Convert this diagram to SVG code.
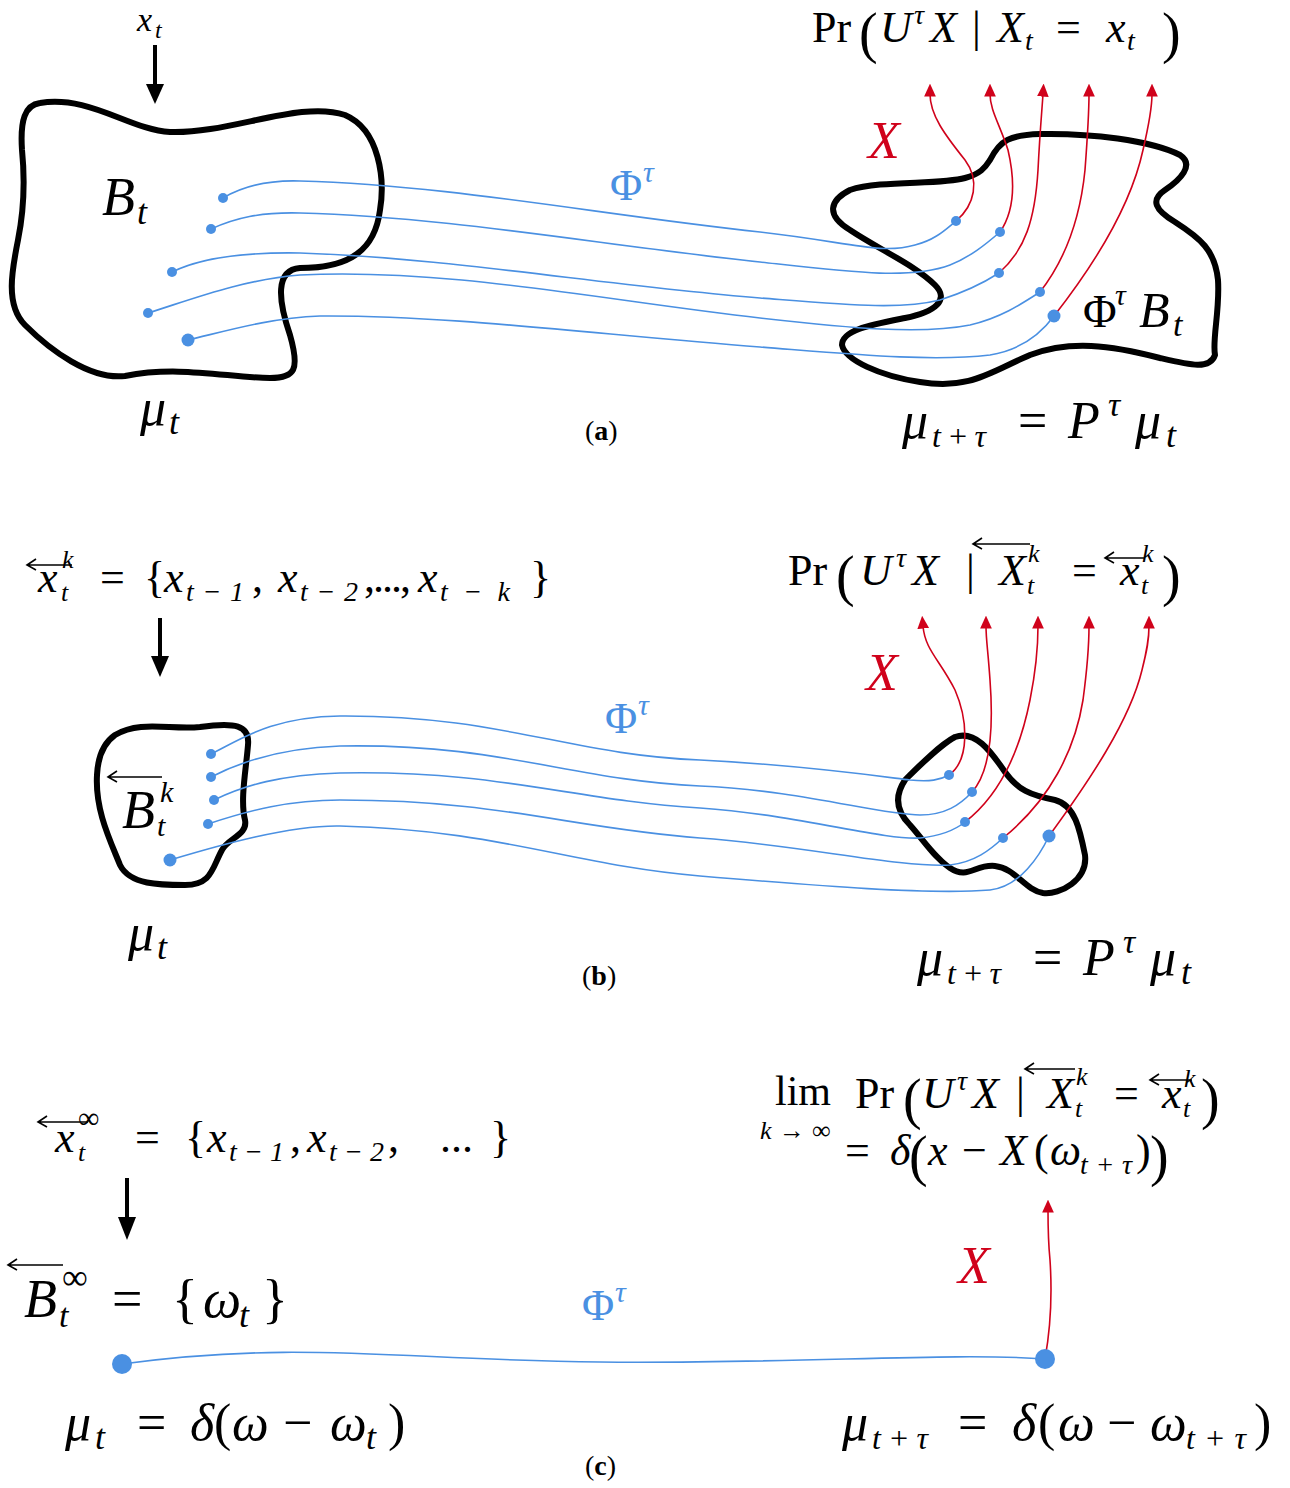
<svg xmlns="http://www.w3.org/2000/svg" width="1290" height="1488" viewBox="0 0 1290 1488">
<style>
.m{font-family:"Liberation Serif","DejaVu Serif",serif;font-style:italic;fill:#000}
.u{font-style:normal}
.b{font-weight:bold;font-style:normal}
.blob{fill:none;stroke:#000;stroke-width:6;stroke-linejoin:round}
.bl{fill:none;stroke:#4a90e2;stroke-width:1.6}
.rd{fill:none;stroke:#d0021b;stroke-width:1.6}
.dot{fill:#4a90e2}
.acc{fill:none;stroke:#000;stroke-width:1.6}
.blue{fill:#4a90e2}
.red{fill:#d0021b}
</style>
<defs>
<marker id="ra" viewBox="0 0 10 10" refX="2" refY="5" markerWidth="13" markerHeight="13" markerUnits="userSpaceOnUse" orient="auto">
<path d="M0,0.5 L10,5 L0,9.5 Z" fill="#d0021b"/>
</marker>
</defs>

<!-- Panel (a) -->
<g id="a-left-blob"><path class="blob" d="M40,103 C90,95 130,130 170,132 C230,134 300,100 345,115 C380,130 385,180 380,210 C375,250 350,268 300,268 C275,270 278,300 290,335 C300,370 295,378 270,378 C230,378 180,365 125,376 C90,380 50,350 25,325 C5,305 12,270 18,240 C24,210 25,180 22,150 C20,120 25,105 40,103 Z"/></g>
<g id="a-right-blob"><path class="blob" d="M990,160 C1000,140 1010,135 1040,134 C1090,133 1150,140 1180,155 C1195,165 1180,180 1165,190 C1150,200 1155,210 1175,222 C1200,238 1215,250 1218,280 C1220,310 1212,340 1215,355 C1210,370 1190,365 1160,358 C1110,345 1070,340 1030,355 C990,372 970,390 920,382 C880,376 845,360 842,345 C842,330 870,325 905,318 C935,312 950,300 935,285 C915,265 880,250 850,230 C825,215 830,200 850,190 C880,180 940,185 965,178 C980,174 985,168 990,160 Z"/></g>
<g id="a-arrow"><line x1="155" y1="45" x2="155" y2="88" stroke="#000" stroke-width="4"/><path d="M146,84 L164,84 L155,104 Z" fill="#000"/></g>
<g id="a-connectors">
<path class="bl" d="M223,198 C245,185 270,180 300,181 C450,185 600,215 760,232 C850,242 880,255 915,245 C935,240 945,230 956,221"/>
<path class="bl" d="M211,229 C235,218 260,212 300,213 C450,217 600,245 760,262 C850,272 910,280 950,265 C970,257 985,245 1000,232"/>
<path class="bl" d="M172,272 C200,258 240,252 300,253 C450,258 600,285 760,298 C850,305 900,310 940,300 C965,292 985,282 999,273"/>
<path class="bl" d="M148,313 C190,300 240,280 300,275 C450,268 600,300 760,318 C850,328 920,335 970,325 C1000,318 1020,305 1040,292"/>
<path class="bl" d="M188,340 C230,330 270,318 320,316 C450,315 600,335 760,347 C850,354 930,362 990,355 C1020,350 1040,335 1054,316"/>
<path class="rd" marker-end="url(#ra)" d="M956,221 C975,205 980,180 965,160 C945,135 930,115 930,94"/>
<path class="rd" marker-end="url(#ra)" d="M1000,232 C1015,210 1015,180 1008,150 C1000,125 990,110 990,94"/>
<path class="rd" marker-end="url(#ra)" d="M999,273 C1025,250 1035,220 1038,170 C1040,130 1042,110 1043,94"/>
<path class="rd" marker-end="url(#ra)" d="M1040,292 C1065,260 1080,220 1085,170 C1088,130 1089,110 1089,94"/>
<path class="rd" marker-end="url(#ra)" d="M1054,316 C1090,270 1130,210 1143,150 C1150,120 1152,105 1152,94"/>
</g>
<g id="a-dots">
<circle class="dot" cx="223" cy="198" r="5"/><circle class="dot" cx="211" cy="229" r="5"/><circle class="dot" cx="172" cy="272" r="5"/><circle class="dot" cx="148" cy="313" r="5"/><circle class="dot" cx="188" cy="340" r="6.5"/>
<circle class="dot" cx="956" cy="221" r="5"/><circle class="dot" cx="1000" cy="232" r="5"/><circle class="dot" cx="999" cy="273" r="5"/><circle class="dot" cx="1040" cy="292" r="5"/><circle class="dot" cx="1054" cy="316" r="6.5"/>
</g>
<g id="a-labels">
<text class="m" font-size="34"><tspan x="137" y="31">x</tspan><tspan x="155" y="38" font-size="24">t</tspan></text>
<text class="m" font-size="44"><tspan class="u" x="812" y="42">Pr</tspan><tspan class="u" x="859" y="52" font-size="56">(</tspan><tspan x="880" y="42">U</tspan><tspan x="914" y="24" font-size="28">τ</tspan><tspan x="930" y="42">X</tspan><tspan class="u" x="972" y="42">|</tspan><tspan x="997" y="42">X</tspan><tspan x="1025" y="50" font-size="28">t</tspan><tspan class="u" x="1056" y="42">=</tspan><tspan x="1106" y="42">x</tspan><tspan x="1127" y="50" font-size="28">t</tspan><tspan class="u" x="1162" y="52" font-size="56">)</tspan></text>
<text class="m" font-size="54"><tspan x="102" y="215">B</tspan><tspan x="137" y="224" font-size="36">t</tspan></text>
<text class="m blue" font-size="44"><tspan class="u" x="610" y="200">Φ</tspan><tspan x="643" y="182" font-size="30">τ</tspan></text>
<text class="m red" x="868" y="158" font-size="52">X</text>
<text class="m" font-size="46"><tspan class="u" x="1083" y="327">Φ</tspan><tspan x="1115" y="305" font-size="30">τ</tspan><tspan x="1139" y="327" font-size="50">B</tspan><tspan x="1173" y="336" font-size="34">t</tspan></text>
<text class="m" font-size="52"><tspan x="140" y="425">μ</tspan><tspan x="169" y="434" font-size="36">t</tspan></text>
<text class="m u" x="585" y="440" font-size="28">(<tspan class="b">a</tspan>)</text>
<text class="m" font-size="52"><tspan x="902" y="438">μ</tspan><tspan x="932" y="447" font-size="32" textLength="54" lengthAdjust="spacing">t+τ</tspan><tspan class="u" x="1018" y="438">=</tspan><tspan x="1068" y="438">P</tspan><tspan x="1108" y="416" font-size="34">τ</tspan><tspan x="1135" y="438">μ</tspan><tspan x="1166" y="447" font-size="36">t</tspan></text>
</g>

<!-- Panel (b) -->
<g id="b-left-blob"><path class="blob" d="M115,735 C140,720 170,730 200,727 C235,722 250,725 248,745 C246,770 240,800 245,820 C248,835 228,838 222,850 C212,868 212,885 185,885 C160,885 130,885 120,865 C110,840 95,810 97,775 C98,755 105,742 115,735 Z"/></g>
<g id="b-right-blob"><path class="blob" d="M955,737 C975,730 990,750 1005,772 C1018,790 1030,795 1055,800 C1075,805 1080,830 1085,855 C1088,880 1060,895 1043,893 C1025,890 1015,868 995,866 C975,864 968,880 950,868 C935,858 925,842 910,825 C895,810 895,795 905,780 C920,765 940,745 955,737 Z"/></g>
<g id="b-arrow"><line x1="160" y1="618" x2="160" y2="660" stroke="#000" stroke-width="4"/><path d="M151,656 L169,656 L160,677 Z" fill="#000"/></g>
<g id="b-connectors">
<path class="bl" d="M211,754 C240,740 270,717 340,716 C500,715 570,755 700,760 C800,765 870,775 910,780 C930,782 940,780 949,775"/>
<path class="bl" d="M211,777 C240,762 280,748 340,746 C500,743 570,780 700,786 C800,790 880,815 920,815 C945,815 960,805 972,792"/>
<path class="bl" d="M214,800 C245,785 280,775 340,773 C500,770 570,800 700,808 C800,815 880,840 920,838 C940,836 955,830 965,822"/>
<path class="bl" d="M208,824 C250,810 290,800 340,800 C500,800 570,828 700,838 C800,845 900,868 950,865 C975,862 990,850 1003,838"/>
<path class="bl" d="M170,860 C220,845 290,825 340,826 C500,830 570,865 700,876 C820,886 930,895 990,890 C1020,887 1040,855 1049,836"/>
<path class="rd" marker-end="url(#ra)" d="M949,775 C970,760 968,720 955,690 C940,660 925,650 923,626"/>
<path class="rd" marker-end="url(#ra)" d="M972,792 C992,770 993,720 990,680 C988,650 986,640 986,626"/>
<path class="rd" marker-end="url(#ra)" d="M965,822 C1000,795 1020,750 1030,700 C1036,670 1038,645 1038,626"/>
<path class="rd" marker-end="url(#ra)" d="M1003,838 C1050,800 1075,750 1083,700 C1087,670 1089,645 1089,626"/>
<path class="rd" marker-end="url(#ra)" d="M1049,836 C1090,780 1130,720 1142,670 C1147,650 1149,640 1149,626"/>
</g>
<g id="b-dots">
<circle class="dot" cx="211" cy="754" r="5"/><circle class="dot" cx="211" cy="777" r="5"/><circle class="dot" cx="214" cy="800" r="5"/><circle class="dot" cx="208" cy="824" r="5"/><circle class="dot" cx="170" cy="860" r="6.5"/>
<circle class="dot" cx="949" cy="775" r="5"/><circle class="dot" cx="972" cy="792" r="5"/><circle class="dot" cx="965" cy="822" r="5"/><circle class="dot" cx="1003" cy="838" r="5"/><circle class="dot" cx="1049" cy="836" r="6.5"/>
</g>
<g id="b-labels">
<path class="acc" d="M27,565 L72,565 M36,559 L27,565 L36,570"/>
<text class="m" font-size="44"><tspan x="38" y="592">x</tspan><tspan x="62" y="568" font-size="26">k</tspan><tspan x="61" y="601" font-size="26">t</tspan><tspan class="u" x="100" y="592">=</tspan><tspan class="u" x="144" y="592">{</tspan><tspan x="164" y="592">x</tspan><tspan x="186" y="601" font-size="28" textLength="58" lengthAdjust="spacing">t−1</tspan><tspan class="u" x="252" y="592">,</tspan><tspan x="278" y="592">x</tspan><tspan x="300" y="601" font-size="28" textLength="58" lengthAdjust="spacing">t−2</tspan><tspan class="u" x="364" y="592" letter-spacing="-2">,...,</tspan><tspan x="418" y="592">x</tspan><tspan x="440" y="601" font-size="28" textLength="70" lengthAdjust="spacing">t−k</tspan><tspan class="u" x="530" y="592">}</tspan></text>
<path class="acc" d="M973,544 L1030,544 M982,538 L973,544 L982,549"/>
<path class="acc" d="M1105,558 L1145,558 M1114,552 L1105,558 L1114,563"/>
<text class="m" font-size="44"><tspan class="u" x="788" y="585">Pr</tspan><tspan class="u" x="836" y="595" font-size="56">(</tspan><tspan x="860" y="585">U</tspan><tspan x="896" y="567" font-size="28">τ</tspan><tspan x="912" y="585">X</tspan><tspan class="u" x="966" y="585">|</tspan><tspan x="999" y="585">X</tspan><tspan x="1028" y="562" font-size="26">k</tspan><tspan x="1027" y="594" font-size="26">t</tspan><tspan class="u" x="1072" y="585">=</tspan><tspan x="1120" y="585">x</tspan><tspan x="1142" y="562" font-size="26">k</tspan><tspan x="1141" y="594" font-size="26">t</tspan><tspan class="u" x="1162" y="595" font-size="56">)</tspan></text>
<text class="m blue" font-size="44"><tspan class="u" x="605" y="733">Φ</tspan><tspan x="638" y="715" font-size="30">τ</tspan></text>
<text class="m red" x="866" y="690" font-size="52">X</text>
<path class="acc" d="M108,777 L162,777 M117,771 L108,777 L117,782"/>
<text class="m" font-size="54"><tspan x="122" y="828">B</tspan><tspan x="160" y="802" font-size="30">k</tspan><tspan x="157" y="836" font-size="30">t</tspan></text>
<text class="m" font-size="52"><tspan x="128" y="950">μ</tspan><tspan x="157" y="959" font-size="36">t</tspan></text>
<text class="m u" x="582" y="985" font-size="28">(<tspan class="b">b</tspan>)</text>
<text class="m" font-size="52"><tspan x="917" y="975">μ</tspan><tspan x="947" y="984" font-size="32" textLength="54" lengthAdjust="spacing">t+τ</tspan><tspan class="u" x="1033" y="975">=</tspan><tspan x="1083" y="975">P</tspan><tspan x="1123" y="953" font-size="34">τ</tspan><tspan x="1150" y="975">μ</tspan><tspan x="1181" y="984" font-size="36">t</tspan></text>
</g>

<!-- Panel (c) -->
<g id="c-arrow"><line x1="127" y1="1178" x2="127" y2="1220" stroke="#000" stroke-width="4"/><path d="M118,1217 L136,1217 L127,1240 Z" fill="#000"/></g>
<g id="c-connectors">
<path class="bl" d="M122,1364 C300,1340 400,1360 600,1362 C800,1364 950,1352 1045,1359"/>
<path class="rd" marker-end="url(#ra)" d="M1045,1359 C1052,1320 1052,1290 1050,1260 C1048,1240 1048,1225 1048,1210"/>
</g>
<g id="c-dots"><circle class="dot" cx="122" cy="1364" r="10"/><circle class="dot" cx="1045" cy="1359" r="10"/></g>
<g id="c-labels">
<path class="acc" d="M38,1122 L88,1122 M47,1116 L38,1122 L47,1127"/>
<text class="m" font-size="44"><tspan x="55" y="1152">x</tspan><tspan class="u" x="78" y="1128" font-size="30">∞</tspan><tspan x="78" y="1161" font-size="26">t</tspan><tspan class="u" x="135" y="1152">=</tspan><tspan class="u" x="185" y="1152">{</tspan><tspan x="207" y="1152">x</tspan><tspan x="229" y="1161" font-size="28" textLength="55" lengthAdjust="spacing">t−1</tspan><tspan class="u" x="290" y="1152">,</tspan><tspan x="307" y="1152">x</tspan><tspan x="329" y="1161" font-size="28" textLength="55" lengthAdjust="spacing">t−2</tspan><tspan class="u" x="388" y="1152">,</tspan><tspan class="u" x="440" y="1152">...</tspan><tspan class="u" x="490" y="1152">}</tspan></text>
<text class="m u" x="775" y="1105" font-size="42">lim</text>
<text class="m" font-size="26"><tspan x="760" y="1139">k</tspan><tspan class="u" x="779" y="1139">→</tspan><tspan class="u" x="812" y="1139">∞</tspan></text>
<path class="acc" d="M1025,1069 L1075,1069 M1034,1063 L1025,1069 L1034,1074"/>
<path class="acc" d="M1150,1080 L1192,1080 M1159,1074 L1150,1080 L1159,1085"/>
<text class="m" font-size="44"><tspan class="u" x="855" y="1108">Pr</tspan><tspan class="u" x="903" y="1118" font-size="56">(</tspan><tspan x="922" y="1108">U</tspan><tspan x="957" y="1090" font-size="28">τ</tspan><tspan x="972" y="1108">X</tspan><tspan class="u" x="1016" y="1108">|</tspan><tspan x="1047" y="1108">X</tspan><tspan x="1076" y="1085" font-size="26">k</tspan><tspan x="1075" y="1117" font-size="26">t</tspan><tspan class="u" x="1114" y="1108">=</tspan><tspan x="1162" y="1108">x</tspan><tspan x="1184" y="1087" font-size="26">k</tspan><tspan x="1183" y="1117" font-size="26">t</tspan><tspan class="u" x="1201" y="1118" font-size="56">)</tspan></text>
<text class="m" font-size="44"><tspan class="u" x="845" y="1165">=</tspan><tspan x="890" y="1165">δ</tspan><tspan class="u" x="909" y="1175" font-size="56">(</tspan><tspan x="928" y="1165">x</tspan><tspan class="u" x="962" y="1165">−</tspan><tspan x="1000" y="1165">X</tspan><tspan class="u" x="1034" y="1165">(</tspan><tspan x="1050" y="1165">ω</tspan><tspan x="1080" y="1174" font-size="28" textLength="52" lengthAdjust="spacing">t+τ</tspan><tspan class="u" x="1136" y="1165">)</tspan><tspan class="u" x="1150" y="1175" font-size="56">)</tspan></text>
<path class="acc" d="M8,1265 L63,1265 M17,1259 L8,1265 L17,1270"/>
<text class="m" font-size="54"><tspan x="24" y="1317">B</tspan><tspan class="u" x="62" y="1289" font-size="36">∞</tspan><tspan x="59" y="1327" font-size="34">t</tspan><tspan class="u" x="112" y="1317">=</tspan><tspan class="u" x="172" y="1317">{</tspan><tspan x="203" y="1317">ω</tspan><tspan x="239" y="1327" font-size="36">t</tspan><tspan class="u" x="262" y="1317">}</tspan></text>
<text class="m blue" font-size="44"><tspan class="u" x="582" y="1320">Φ</tspan><tspan x="615" y="1302" font-size="30">τ</tspan></text>
<text class="m red" x="958" y="1283" font-size="52">X</text>
<text class="m" font-size="52"><tspan x="65" y="1440">μ</tspan><tspan x="95" y="1449" font-size="36">t</tspan><tspan class="u" x="137" y="1440">=</tspan><tspan x="190" y="1440">δ</tspan><tspan class="u" x="214" y="1440">(</tspan><tspan x="232" y="1440">ω</tspan><tspan class="u" x="283" y="1440">−</tspan><tspan x="330" y="1440">ω</tspan><tspan x="366" y="1449" font-size="36">t</tspan><tspan class="u" x="388" y="1440">)</tspan></text>
<text class="m u" x="585" y="1475" font-size="28">(<tspan class="b">c</tspan>)</text>
<text class="m" font-size="52"><tspan x="842" y="1440">μ</tspan><tspan x="872" y="1449" font-size="32" textLength="56" lengthAdjust="spacing">t+τ</tspan><tspan class="u" x="958" y="1440">=</tspan><tspan x="1012" y="1440">δ</tspan><tspan class="u" x="1038" y="1440">(</tspan><tspan x="1058" y="1440">ω</tspan><tspan class="u" x="1107" y="1440">−</tspan><tspan x="1150" y="1440">ω</tspan><tspan x="1186" y="1449" font-size="32" textLength="60" lengthAdjust="spacing">t+τ</tspan><tspan class="u" x="1254" y="1440">)</tspan></text>
</g>
</svg>
